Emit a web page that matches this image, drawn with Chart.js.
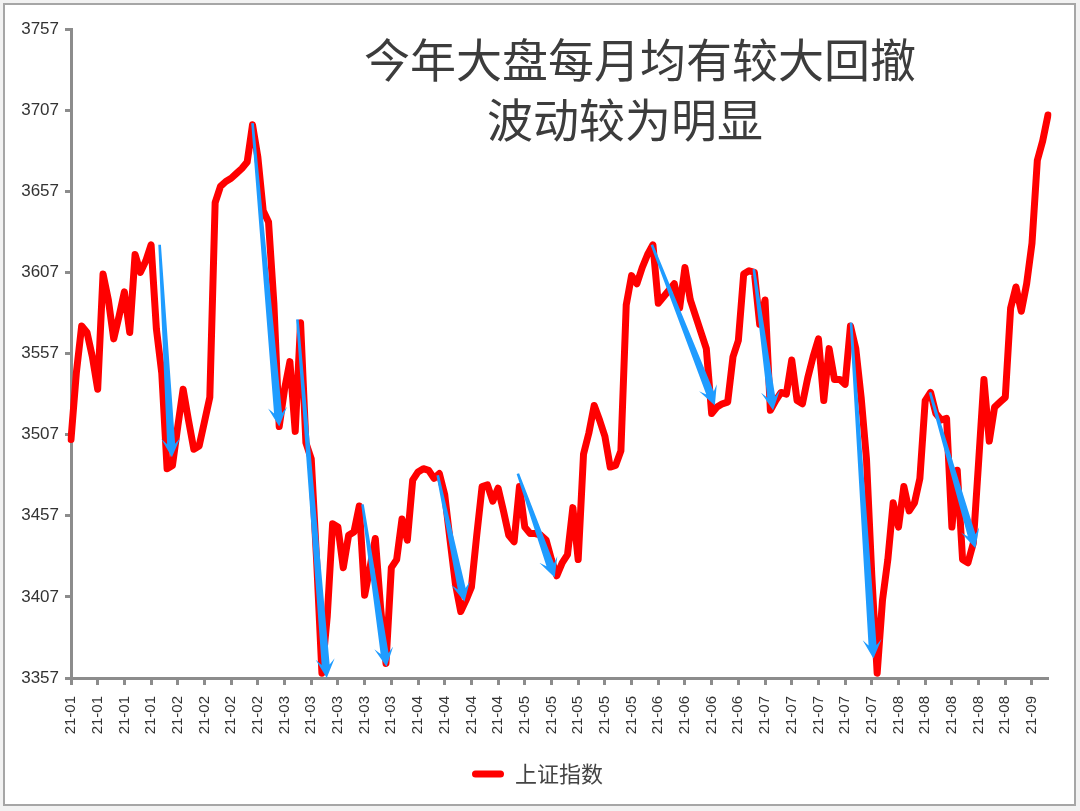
<!DOCTYPE html>
<html>
<head>
<meta charset="utf-8">
<script src="https://cdn.jsdelivr.net/npm/chart.js@4.4.1/dist/chart.umd.min.js"></script>
<style>
  html, body { margin: 0; padding: 0; background: #f2f2f2; }
  #frame {
    position: absolute; left: 3px; top: 3px; width: 1073px; height: 803px;
    box-sizing: border-box; border: 2px solid #a6a6a6; background: #fff;
  }
  #chart { position: absolute; left: 0; top: 0; }
</style>
</head>
<body>
<div id="frame"></div>
<canvas id="chart" width="1080" height="811"></canvas>
<script>
// ─── DATA ─────────────────────────────────────────────────────────────────────
const seriesName = '上证指数';
const titleLines = ['今年大盘每月均有较大回撤', '波动较为明显'];

// 上证指数 daily close
const closeValues = [
    3504, 3545, 3574, 3570, 3555, 3535, 3606, 3590, 3566, 3580,
    3595, 3570, 3618, 3607, 3614, 3624, 3572, 3545, 3486, 3488,
    3512, 3535, 3516, 3498, 3500, 3515, 3530, 3650, 3660, 3663,
    3665, 3668, 3671, 3675, 3698, 3678, 3645, 3638, 3588, 3512,
    3535, 3552, 3509, 3576, 3502, 3492, 3430, 3360, 3395, 3452,
    3450, 3425, 3445, 3447, 3463, 3408, 3425, 3443, 3400, 3366,
    3425, 3430, 3455, 3442, 3479, 3484, 3486, 3485, 3480, 3483,
    3470, 3442, 3415, 3398, 3405, 3413, 3445, 3475, 3476, 3466,
    3474, 3460, 3445, 3441, 3475, 3450, 3446, 3446, 3445, 3442,
    3430, 3420, 3428, 3433, 3462, 3430, 3495, 3508, 3525, 3516,
    3506, 3487, 3488, 3497, 3587, 3605, 3600, 3610, 3618, 3624,
    3588, 3592, 3596, 3600, 3585, 3610, 3590, 3580, 3570, 3560,
    3520, 3524, 3526, 3527, 3555, 3565, 3606, 3608, 3607, 3575,
    3590, 3522, 3528, 3533, 3532, 3553, 3528, 3526, 3542, 3555,
    3566, 3528, 3560, 3541, 3541, 3538, 3574, 3560, 3530, 3492,
    3420, 3360, 3405, 3430, 3465, 3450, 3475, 3460, 3465, 3480,
    3528, 3533, 3520, 3516, 3517, 3450, 3485, 3430, 3428, 3440,
    3490, 3541, 3503, 3524, 3527, 3530, 3585, 3598, 3583, 3600,
    3625, 3676, 3688, 3704,
];

// one label every tickEvery points
const tickEvery   = 5;
const xTickLabels = [
    '21-01', '21-01', '21-01', '21-01',
    '21-02', '21-02', '21-02', '21-02',
    '21-03', '21-03', '21-03', '21-03', '21-03',
    '21-04', '21-04', '21-04', '21-04',
    '21-05', '21-05', '21-05', '21-05', '21-05',
    '21-06', '21-06', '21-06', '21-06',
    '21-07', '21-07', '21-07', '21-07', '21-07',
    '21-08', '21-08', '21-08', '21-08', '21-08',
    '21-09',
];

const yMin = 3357, yMax = 3757, yStep = 50;

// drawdown arrows: (point index, index value) -> (point index, index value)
const arrowFromIdx = [16.6, 34.0, 42.4, 54.6, 68.7, 83.7, 108.8, 127.9, 146.1, 160.9];
const arrowFromVal = [3624, 3699, 3578, 3464, 3482, 3483, 3624, 3609, 3576, 3533];
const arrowToIdx   = [18.9, 39.0, 47.9, 59.1, 73.7, 90.6, 120.6, 131.5, 150.3, 169.4];
const arrowToVal   = [3493, 3512, 3357, 3364, 3404, 3419, 3525, 3522, 3369, 3437];

// ─── STYLE ────────────────────────────────────────────────────────────────────
const lineColor  = '#ff0000';
const arrowColor = '#1f9cff';
const axisColor  = '#8c8c8c';
const textColor  = '#333333';

const categories = closeValues.map((_, i) =>
    i % tickEvery === 0 ? (xTickLabels[i / tickEvery] || '') : '');

Chart.defaults.font.family = '"Liberation Sans", Arial, sans-serif';

// ─── PLUGINS ──────────────────────────────────────────────────────────────────
function drawArrow(ctx, x1, y1, x2, y2) {
    const dx = x2 - x1, dy = y2 - y1;
    const len = Math.hypot(dx, dy);
    const ux = dx / len, uy = dy / len;
    const nx = -uy, ny = ux;
    const headLen = 19, headHalf = 9.5;
    const w0 = 1.3, w1 = 4;
    const bx = x2 - ux * headLen, by = y2 - uy * headLen;              // back corners
    const kx = x2 - ux * headLen * 0.7, ky = y2 - uy * headLen * 0.7;  // notch

    ctx.beginPath();
    ctx.moveTo(x1 + nx * w0, y1 + ny * w0);
    ctx.lineTo(kx + nx * w1, ky + ny * w1);
    ctx.lineTo(bx + nx * headHalf, by + ny * headHalf);
    ctx.lineTo(x2, y2);
    ctx.lineTo(bx - nx * headHalf, by - ny * headHalf);
    ctx.lineTo(kx - nx * w1, ky - ny * w1);
    ctx.lineTo(x1 - nx * w0, y1 - ny * w0);
    ctx.closePath();
    ctx.fill();
}

const arrowPlugin = {
    id: 'drawdownArrows',
    afterDatasetsDraw(chart) {
        const { ctx, scales: { x, y } } = chart;
        ctx.save();
        ctx.fillStyle = arrowColor;
        arrowFromIdx.forEach((_, i) => {
            drawArrow(ctx,
                x.getPixelForValue(arrowFromIdx[i]), y.getPixelForValue(arrowFromVal[i]),
                x.getPixelForValue(arrowToIdx[i]),   y.getPixelForValue(arrowToVal[i]));
        });
        ctx.restore();
    },
};

const titlePlugin = {
    id: 'overlayTitle',
    afterDraw(chart) {
        const ctx = chart.ctx;
        ctx.save();
        ctx.font = '46px "Noto Sans CJK SC", sans-serif';
        ctx.fillStyle = '#3c3c3c';
        ctx.textAlign = 'center';
        ctx.textBaseline = 'middle';
        ctx.fillText(titleLines[0], 640, 60);
        ctx.fillText(titleLines[1], 625, 120);
        ctx.restore();
    },
};

// ─── CHART ────────────────────────────────────────────────────────────────────
new Chart(document.getElementById('chart'), {
    type: 'line',
    data: {
        labels: categories,
        datasets: [{
            label: seriesName,
            data: closeValues,
            borderColor: lineColor,
            backgroundColor: lineColor,
            borderWidth: 7,
            borderJoinStyle: 'round',
            borderCapStyle: 'round',
            pointRadius: 0,
            tension: 0,
        }],
    },
    options: {
        responsive: false,
        devicePixelRatio: 1,
        animation: false,
        layout: { padding: { left: 0, right: 5, top: 29, bottom: 16 } },
        plugins: {
            tooltip: { enabled: false },
            legend: {
                position: 'bottom',
                labels: {
                    color: '#444',
                    font: { family: '"Noto Sans CJK SC", sans-serif', size: 22 },
                    boxWidth: 32,
                    boxHeight: 7,
                    padding: 8,
                    useBorderRadius: true,
                    borderRadius: 3.5,
                    generateLabels: (chart) =>
                        Chart.defaults.plugins.legend.labels.generateLabels(chart)
                            .map(l => ({ ...l, lineWidth: 0, fillStyle: lineColor })),
                },
            },
        },
        scales: {
            x: {
                afterFit: (s) => { s.height = 77; },
                border: { display: true, color: axisColor, width: 3 },
                grid: {
                    drawOnChartArea: false,
                    tickLength: 7,
                    tickWidth: 3,
                    tickColor: (c) => categories[c.index] ? axisColor : 'rgba(0,0,0,0)',
                },
                ticks: {
                    autoSkip: false,
                    minRotation: 90,
                    maxRotation: 90,
                    padding: 11,
                    color: textColor,
                    font: { size: 15 },
                },
            },
            y: {
                min: yMin,
                max: yMax,
                afterFit: (s) => { s.width = 71; },
                border: { display: true, color: axisColor, width: 3 },
                grid: {
                    drawOnChartArea: false,
                    tickLength: 6,
                    tickWidth: 3,
                    tickColor: axisColor,
                },
                ticks: {
                    stepSize: yStep,
                    padding: 6,
                    color: textColor,
                    font: { size: 17 },
                    callback: (v) => String(v),
                },
            },
            // empty right-hand box: keeps the plot's right edge while the legend centres on the frame
            yRight: {
                position: 'right',
                afterFit: (s) => { s.width = 27; },
                border: { display: false },
                grid: { display: false },
                ticks: { display: false },
            },
        },
    },
    plugins: [arrowPlugin, titlePlugin],
});
</script>
</body>
</html>
